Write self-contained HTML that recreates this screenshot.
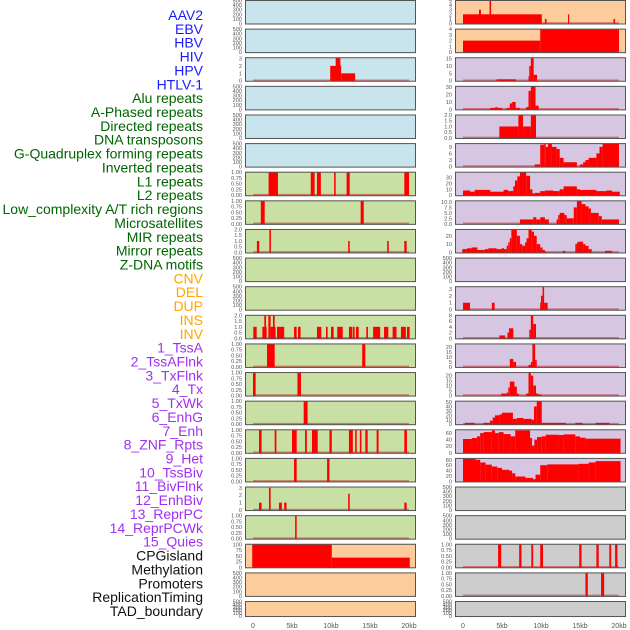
<!DOCTYPE html>
<html><head><meta charset="utf-8"><style>
html,body{margin:0;padding:0;background:#fff;}
svg{display:block;}
</style></head><body>
<svg id="chart" width="630" height="630" viewBox="0 0 630 630" xmlns="http://www.w3.org/2000/svg"></svg>
<script>
const labelNames = ["AAV2","EBV","HBV","HIV","HPV","HTLV-1","Alu repeats","A-Phased repeats","Directed repeats","DNA transposons","G-Quadruplex forming repeats","Inverted repeats","L1 repeats","L2 repeats","Low_complexity A/T rich regions","Microsatellites","MIR repeats","Mirror repeats","Z-DNA motifs","CNV","DEL","DUP","INS","INV","1_TssA","2_TssAFlnk","3_TxFlnk","4_Tx","5_TxWk","6_EnhG","7_Enh","8_ZNF_Rpts","9_Het","10_TssBiv","11_BivFlnk","12_EnhBiv","13_ReprPC","14_ReprPCWk","15_Quies","CPGisland","Methylation","Promoters","ReplicationTiming","TAD_boundary"];
const labelColors = ["#1a1aff","#1a1aff","#1a1aff","#1a1aff","#1a1aff","#1a1aff","#006400","#006400","#006400","#006400","#006400","#006400","#006400","#006400","#006400","#006400","#006400","#006400","#006400","#ffa500","#ffa500","#ffa500","#ffa500","#ffa500","#a030f0","#a030f0","#a030f0","#a030f0","#a030f0","#a030f0","#a030f0","#a030f0","#a030f0","#a030f0","#a030f0","#a030f0","#a030f0","#a030f0","#a030f0","#111","#111","#111","#111","#111"];
const xTickValues = [0,5,10,15,20];
const xTickLabels = ["0","5kb","10kb","15kb","20kb"];
const T500=[0,100,200,300,400,500], T1=[0,0.25,0.5,0.75,1], T2=[0,0.5,1,1.5,2];
const T1L=["0.00","0.25","0.50","0.75","1.00"], T2L=["0.0","0.5","1.0","1.5","2.0"];
const leftBg = ["c","c","c","c","c","c","g","g","g","g","g","g","g","g","g","g","g","g","g","o","o","o"];
const leftYmax = [500,500,3.1,500,500,500,1,1,2,500,500,2,1,1,1,1,1,3.1,1,100,500,500];
const leftTicks = [T500,T500,[0,1,2,3],T500,T500,T500,T1,T1,T2,T500,T500,T2,T1,T1,T1,T1,T1,[0,1,2,3],T1,[0,25,50,75,100],T500,T500];
const leftTickLabels = [null,null,null,null,null,null,T1L,T1L,T2L,null,null,T2L,T1L,T1L,T1L,T1L,T1L,null,T1L,null,null,null];
const leftSegs = [
[],[],
[[9.9,11.3,2],[10.6,11.2,3.1],[11.3,13.1,1]],
[],[],[],
[[2.0,3.2,1],[7.4,7.9,1],[8.2,8.7,1],[10.4,10.6,1],[12.0,12.4,1],[19.4,20.0,1]],
[[1.0,1.5,1],[13.8,14.2,1]],
[[0.5,0.8,1],[2.1,2.3,2],[12.2,12.4,1],[17.2,17.4,1],[19.4,19.7,1]],
[],[],
[[0.04,0.47,1],[1.2,1.75,1],[1.45,1.67,2],[1.97,2.26,2],[2.26,2.9,1],[2.56,2.78,2],[3.08,4.0,1],[5.26,5.6,1],[5.77,6.1,1],[8.2,8.76,1],[9.36,9.57,1],[10.0,10.34,1],[10.8,11.5,1],[12.3,12.7,1],[12.78,13.03,1],[13.2,13.55,1],[14.53,14.74,1],[15.4,16.3,1],[16.8,17.35,1],[17.9,18.4,1],[18.97,19.36,1],[19.36,19.6,1],[19.74,20.08,1]],
[[1.8,2.78,1],[14.0,14.4,1]],
[[0,0.34,1],[5.7,6.15,1]],
[[6.5,7.0,1]],
[[0.77,1.1,1],[2.78,3.0,1],[5.0,5.6,1],[6.67,6.9,1],[7.56,8.3,1],[9.8,10.1,1],[12.3,12.8,1],[13.1,13.3,1],[13.7,13.9,1],[14.4,14.7,1],[15.85,16.1,1],[19.4,19.74,1]],
[[5.26,5.6,1],[9.5,9.8,1]],
[[0.77,1.1,1],[2.05,2.26,3],[3.33,3.7,1],[4.0,4.3,1],[12.2,12.4,2.2],[19.4,19.7,1]],
[[5.4,5.6,1]],
[[-0.1,10.1,100],[10.1,20.1,42]],
[],[]
];
const rightBg = ["o","o","p","p","p","p","p","p","p","p","p","p","p","p","p","p","p","y","y","y","y","y"];
const rightYmax = [5,4,15.5,31,2,10.5,39,10.5,27.6,500,3.3,8,23,23,52,70,85,500,500,1,1,500];
const rightTicks = [[0,1,2,3,4,5],[0,1,2,3,4],[0,5,10,15],[0,10,20,30],T2,[0,3,6,9],[0,10,20,30],[0,2.5,5,7.5,10],[0,10,20],T500,[0,1,2,3],[0,2,4,6,8],[0,5,10,15,20],[0,5,10,15,20],[0,10,20,30,40,50],[0,20,40,60],[0,20,40,60,80],T500,T500,T1,T1,T500];
const rightTickLabels = [null,null,null,null,T2L,null,null,["0.0","2.5","5.0","7.5","10.0"],null,null,null,null,null,null,null,null,null,null,null,T1L,T1L,null];
const rightSegs = [
[[0,10.1,2],[2.05,2.3,3],[3.4,3.6,5],[10.5,10.7,1],[13.46,13.6,2],[19.3,19.5,1]],
[[0,9.9,2],[9.9,20,4]],
[[4.3,6.8,1],[8.4,8.6,3],[8.5,8.7,10],[8.7,9.06,15.5],[9.06,9.5,4]],
[[3.5,5,2],[4.15,4.4,3],[5.6,6.0,2],[6.0,6.3,8],[6.3,6.75,10],[6.75,7.3,2],[8.1,8.4,3],[8.4,8.7,25],[8.7,9.3,31],[9.3,9.7,5]],
[[4.66,7.1,1],[7.1,7.7,2],[7.7,8.7,1],[8.7,9.36,2]],
[[9.2,9.9,1],[9.9,10.4,10],[10.4,10.6,10.5],[10.6,10.9,9],[10.9,11.4,10.5],[11.4,12.0,9],[12.0,12.4,8],[12.4,12.9,4],[12.9,14.6,2],[15.0,15.4,1],[15.4,15.7,2],[15.7,16.1,3],[16.1,17.1,4],[17.1,17.5,6],[17.5,17.9,9],[17.9,20,10.5]],
[[0,0.9,8],[0.9,1.5,6],[1.5,3.5,9],[3.5,5.2,6],[5.2,5.8,9],[5.8,6.45,7],[6.45,6.67,15],[6.67,6.97,25],[6.97,7.3,32],[7.3,8.1,39],[8.1,8.6,33],[8.6,8.9,10],[8.9,9.2,3],[9.2,9.9,4],[9.9,10.5,7],[10.5,11.6,8],[11.6,12.4,7],[12.4,12.9,10],[12.9,14.6,15],[14.6,15.0,10],[15.0,17.1,9],[17.1,18.4,7],[18.4,19.1,8],[19.1,20.1,6]],
[[7.3,9.0,2],[9.0,9.4,3],[9.4,9.9,2],[9.9,10.5,3],[10.5,11.0,2],[12.0,12.2,2],[12.2,12.4,4],[12.4,13.0,5],[13.0,13.3,4],[13.3,14.2,2.5],[14.2,14.6,7.5],[14.6,15.2,10.5],[15.2,15.7,9],[15.7,16.1,8],[16.1,16.4,7],[16.4,17.4,5],[17.4,17.8,3.5],[17.8,20,2]],
[[-0.1,0.5,4],[0.5,1.1,5],[1.1,1.85,6],[1.85,2.8,3],[2.8,3.25,4],[3.25,4.3,5],[4.3,4.96,4],[4.96,5.26,5],[5.26,5.6,4],[5.6,5.8,8],[5.8,6.0,12],[6.0,6.2,17],[6.2,6.9,27],[6.9,7.3,20],[7.3,7.6,10],[7.6,7.95,8],[7.95,8.15,12],[8.15,8.4,17],[8.4,8.8,27],[8.8,9.1,25],[9.1,9.45,20],[9.45,9.9,10],[9.9,10.2,6],[10.2,10.5,3],[10.5,10.7,1],[12.8,13.1,2],[14.4,14.6,10],[14.6,14.8,12],[14.8,15.4,13],[15.4,15.7,10],[15.7,16.1,8],[16.1,16.5,4],[18.2,19.1,2]],
[],
[[0,0.9,1],[3.7,4.05,1],[9.9,10.15,1],[10.0,10.2,2],[10.2,10.4,3.3],[10.4,10.85,1]],
[[4.66,5.4,1],[5.7,5.9,2],[5.9,6.45,3.5],[8.5,8.7,3],[8.7,9.0,8],[9.0,9.36,5]],
[[6.0,6.45,8],[6.45,6.8,5],[8.4,8.7,2],[8.7,8.9,5],[8.9,9.25,23],[9.25,9.45,7]],
[[4.9,5.6,2],[5.6,5.8,3],[5.8,6.0,8],[6.0,6.6,14],[6.6,6.9,9],[6.9,7.15,2],[8.1,8.4,2],[8.4,8.7,23],[8.7,9.0,20],[9.0,9.36,10],[9.36,9.66,2],[9.66,10.1,1]],
[[0.25,1.5,3],[2.6,3.45,3],[3.45,3.8,8],[3.8,4.1,15],[4.1,4.66,20],[4.66,5.0,22],[5.0,6.4,26],[6.4,6.9,12],[6.9,7.75,14],[7.75,8.8,12],[8.8,9.1,10],[9.1,9.45,40],[9.45,10.1,52],[10.1,13.2,3],[14.4,15.3,3],[17.0,18.8,3]],
[[0,1.15,42],[1.15,1.8,45],[1.8,2.2,50],[2.2,2.65,60],[2.65,3.7,63],[3.7,4.1,68],[4.1,4.6,60],[4.6,5.2,63],[5.2,6.1,57],[6.1,6.7,50],[6.7,8.6,68],[8.6,8.85,45],[8.85,9.15,22],[9.15,9.5,40],[9.5,10.1,48],[10.1,10.6,50],[10.6,12.3,55],[12.3,12.9,54],[12.9,14.4,56],[14.4,15.0,50],[15.0,15.7,46],[15.7,20.2,43]],
[[0,1.6,84],[1.6,2.2,80],[2.2,2.9,70],[2.9,3.7,62],[3.7,4.4,55],[4.4,5.0,50],[5.0,5.9,43],[5.9,6.3,40],[6.3,6.7,30],[6.7,8.0,18],[8.0,9.0,13],[9.0,9.3,8],[9.3,9.9,25],[9.9,10.8,60],[10.8,14.8,63],[14.8,16.1,65],[16.1,17.0,70],[17.0,20.2,75]],
[],[],
[[4.5,4.9,1],[7.2,7.5,1],[8.76,9.0,1],[9.9,10.26,1],[14.9,15.2,1],[17.1,17.4,1],[18.76,19.0,1],[19.5,19.8,1]],
[[15.7,16.0,1],[17.7,18.1,1]],
[]
];
const bgColors = {c:"#c8e4ec",g:"#c8e0a4",o:"#fdcc9c",p:"#d6c6e2",y:"#cdcdcd"};

const NS="http://www.w3.org/2000/svg";
const svg=document.getElementById("chart");
function mk(tag,attrs,parent){const e=document.createElementNS(NS,tag);for(const k in attrs)e.setAttribute(k,attrs[k]);(parent||svg).appendChild(e);return e;}
const pitch=28.62, ph=24.5;

labelNames.forEach((n,i)=>{
  const t=mk("text",{x:203,y:15+i*13.86+5,"text-anchor":"end","font-family":"Liberation Sans, sans-serif","font-size":"14",fill:labelColors[i]});
  
  
  t.textContent=n;
});

function drawColumn(side,x0,x1,bgs,ymaxs,ticks,tlabels,segs){
  const xs=v=>x0+8+(v/20)*156;
  for(let i=0;i<bgs.length;i++){
    const top=i*pitch, h=(i===bgs.length-1)?16:ph;
    const g=mk("g",{});
    
    
    mk("rect",{x:x0,y:top,width:x1-x0,height:h,fill:bgColors[bgs[i]]},g);
    const ymax=ymaxs[i];
    const ys=v=>top+h-1-(Math.min(v,ymax)/ymax)*(h-1.5);
    const s=segs[i];
    if(s.length){
      mk("line",{x1:xs(0),x2:xs(20),y1:top+h-1.5,y2:top+h-1.5,stroke:"rgba(200,40,40,0.55)","stroke-width":1.6},g);
      s.forEach(d=>{
        const r=mk("rect",{x:xs(d[0]),y:ys(d[2]),width:Math.max(xs(d[1])-xs(d[0]),1.2),height:top+h-1-ys(d[2])+0.5,fill:"#ff0000"},g);
        
        
      });
    }
    const fr=mk("rect",{x:x0+0.5,y:top+0.5,width:x1-x0-1,height:h-1,fill:"none",stroke:"#555","stroke-width":1},g);
    
    
    ticks[i].forEach((tv,k)=>{
      const lab=tlabels[i]?tlabels[i][k]:String(tv);
      const t=mk("text",{x:x0-3,y:ys(tv)+2,"text-anchor":"end","font-family":"Liberation Sans, sans-serif","font-size":"5.6",fill:"#555"},g);
      
      
      t.textContent=lab;
    });
  }
  xTickValues.forEach((v,k)=>{
    const t=mk("text",{x:xs(v),y:628,"text-anchor":"middle","font-family":"Liberation Sans, sans-serif","font-size":"7",fill:"#555"});
    
    
    t.textContent=xTickLabels[k];
  });
}
drawColumn("left",245,416,leftBg,leftYmax,leftTicks,leftTickLabels,leftSegs);
drawColumn("right",455,626,rightBg,rightYmax,rightTicks,rightTickLabels,rightSegs);
</script>
</body></html>
